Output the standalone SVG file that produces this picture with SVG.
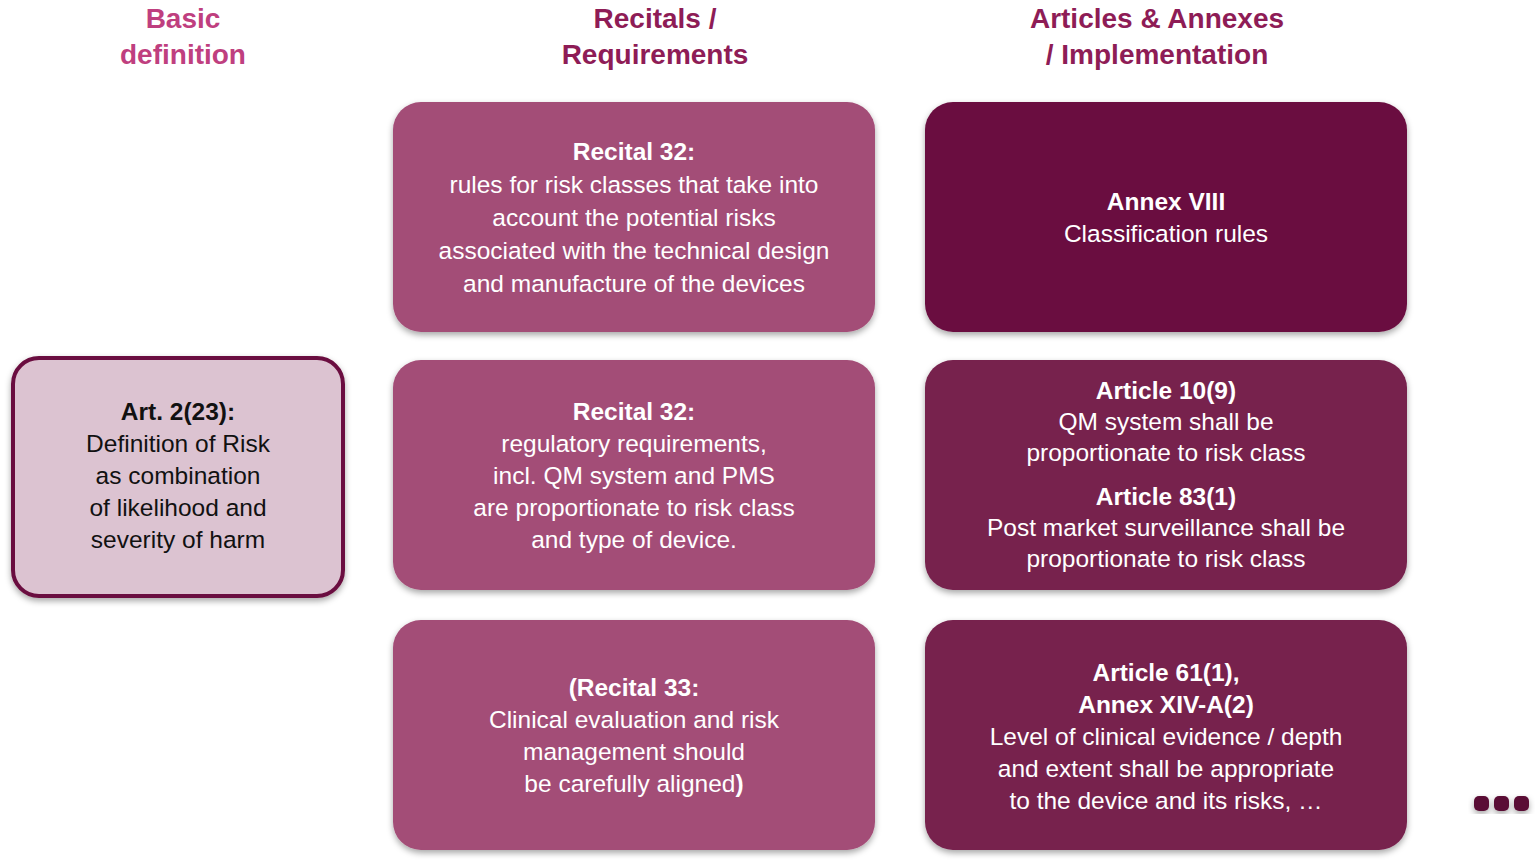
<svg xmlns="http://www.w3.org/2000/svg" width="1535" height="864" viewBox="0 0 1535 864">
<defs>
<filter id="sh" x="-10%" y="-10%" width="120%" height="125%"><feDropShadow dx="0" dy="3" stdDeviation="3" flood-color="#000" flood-opacity="0.35"/></filter>
<style>
text{font-family:"Liberation Sans",Arial,sans-serif;text-anchor:middle;}
.h{font-size:28px;font-weight:bold;}
.t{font-size:24.5px;fill:#fff;}
.k{font-size:24.5px;fill:#111;}
.b{font-weight:bold;}
.mid{fill:#a34d77;}
.dk{fill:#77214d;}
</style>
</defs>
<rect width="1535" height="864" fill="#fff"/>
<g id="headers">
<text class="h" fill="#bf3f7f" x="183" y="28">Basic</text>
<text class="h" fill="#bf3f7f" x="183" y="64">definition</text>
<text class="h" fill="#8e1c56" x="655" y="28">Recitals /</text>
<text class="h" fill="#8e1c56" x="655" y="64">Requirements</text>
<text class="h" fill="#8e1c56" x="1157" y="28">Articles &amp; Annexes</text>
<text class="h" fill="#8e1c56" x="1157" y="64">/ Implementation</text>
</g>
<g id="n-left">
<rect x="13" y="358" width="330" height="238" rx="26" fill="#dcc3d1" stroke="#6b0f3f" stroke-width="4" filter="url(#sh)"/>
<text class="k" x="178" y="420"><tspan class="b">Art. 2(23):</tspan><tspan x="178" dy="32">Definition of Risk</tspan><tspan x="178" dy="32">as combination</tspan><tspan x="178" dy="32">of likelihood and</tspan><tspan x="178" dy="32">severity of harm</tspan></text>
</g>
<g id="n-r32a">
<rect x="393" y="102" width="482" height="230" rx="28" class="mid" filter="url(#sh)"/>
<text class="t" x="634" y="160"><tspan class="b">Recital 32:</tspan><tspan x="634" dy="33">rules for risk classes that take into</tspan><tspan x="634" dy="33">account the potential risks</tspan><tspan x="634" dy="33">associated with the technical design</tspan><tspan x="634" dy="33">and manufacture of the devices</tspan></text>
</g>
<g id="n-r32b">
<rect x="393" y="360" width="482" height="230" rx="28" class="mid" filter="url(#sh)"/>
<text class="t" x="634" y="420"><tspan class="b">Recital 32:</tspan><tspan x="634" dy="32">regulatory requirements,</tspan><tspan x="634" dy="32">incl. QM system and PMS</tspan><tspan x="634" dy="32">are proportionate to risk class</tspan><tspan x="634" dy="32">and type of device.</tspan></text>
</g>
<g id="n-r33">
<rect x="393" y="620" width="482" height="230" rx="28" class="mid" filter="url(#sh)"/>
<text class="t" x="634" y="696"><tspan class="b">(Recital 33:</tspan><tspan x="634" dy="32">Clinical evaluation and risk</tspan><tspan x="634" dy="32">management should</tspan><tspan x="634" dy="32">be carefully aligned<tspan class="b">)</tspan></tspan></text>
</g>
<g id="n-annex8">
<rect x="925" y="102" width="482" height="230" rx="28" fill="#6b1040" filter="url(#sh)"/>
<text class="t" x="1166" y="210"><tspan class="b">Annex VIII</tspan><tspan x="1166" dy="32">Classification rules</tspan></text>
</g>
<g id="n-art10">
<rect x="925" y="360" width="482" height="230" rx="28" class="dk" filter="url(#sh)"/>
<text class="t" x="1166" y="399"><tspan class="b">Article 10(9)</tspan><tspan x="1166" dy="31">QM system shall be</tspan><tspan x="1166" dy="31">proportionate to risk class</tspan><tspan class="b" x="1166" dy="44">Article 83(1)</tspan><tspan x="1166" dy="31">Post market surveillance shall be</tspan><tspan x="1166" dy="31">proportionate to risk class</tspan></text>
</g>
<g id="n-art61">
<rect x="925" y="620" width="482" height="230" rx="28" class="dk" filter="url(#sh)"/>
<text class="t" x="1166" y="681"><tspan class="b">Article 61(1),</tspan><tspan x="1166" dy="32"><tspan class="b">Annex XIV-A(2)</tspan></tspan><tspan x="1166" dy="32">Level of clinical evidence / depth</tspan><tspan x="1166" dy="32">and extent shall be appropriate</tspan><tspan x="1166" dy="32">to the device and its risks, …</tspan></text>
</g>
<g id="dots" fill="#5a0c35" filter="url(#sh)">
<rect x="1474" y="796" width="15" height="15" rx="5"/>
<rect x="1494" y="796" width="15" height="15" rx="5"/>
<rect x="1514" y="796" width="15" height="15" rx="5"/>
</g>
<g id="connectors"/>
</svg>
